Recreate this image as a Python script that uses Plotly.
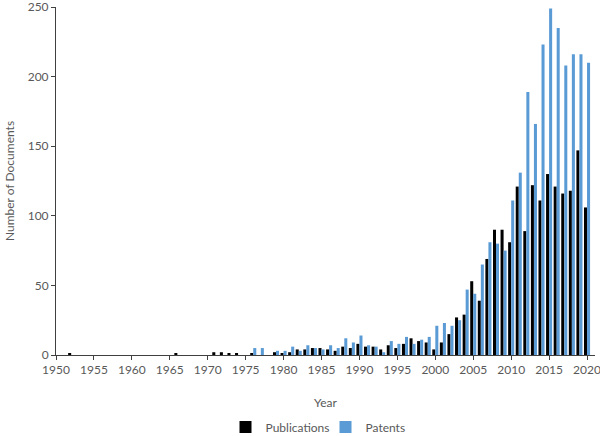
import plotly.graph_objects as go

years = list(range(1950, 2021))

publications = [
    0, 0, 1, 0, 0, 0, 0, 0, 0, 0,          # 1950-1959
    0, 0, 0, 0, 0, 0, 1, 0, 0, 0,          # 1960-1969
    0, 2, 2, 1, 1, 0, 1, 0, 0, 2,          # 1970-1979
    1, 2, 4, 4, 5, 5, 4, 3, 6, 5,          # 1980-1989
    8, 6, 6, 4, 7, 5, 8, 12, 10, 9,        # 1990-1999
    4, 9, 15, 27, 29, 53, 39, 69, 90, 90,  # 2000-2009
    81, 121, 89, 122, 111, 130, 121, 116, 118, 147,  # 2010-2019
    106,                                    # 2020
]

patents = [
    0, 0, 0, 0, 0, 0, 0, 0, 0, 0,          # 1950-1959
    0, 0, 0, 0, 0, 0, 0, 0, 0, 0,          # 1960-1969
    0, 0, 0, 0, 0, 0, 5, 5, 0, 3,          # 1970-1979
    3, 6, 3, 7, 5, 4, 7, 5, 12, 9,         # 1980-1989
    14, 7, 6, 2, 10, 8, 13, 8, 11, 13,     # 1990-1999
    21, 23, 21, 25, 47, 44, 65, 81, 80, 75,  # 2000-2009
    111, 131, 189, 166, 223, 249, 235, 208, 216, 216,  # 2010-2019
    210,                                    # 2020
]

x_ticks = list(range(1950, 2021, 5))
y_ticks = [0, 50, 100, 150, 200, 250]

grey = "#595959"
axis_col = "#404040"

fig = go.Figure()
fig.add_trace(go.Bar(x=years, y=publications, name="Publications",
                     marker=dict(color="#000000", line=dict(width=0))))
fig.add_trace(go.Bar(x=years, y=patents, name="Patents",
                     marker=dict(color="#5B9BD5", line=dict(width=0))))

fig.update_layout(
    width=600, height=436,
    margin=dict(l=56, r=5, t=7, b=81, autoexpand=False),
    paper_bgcolor="white", plot_bgcolor="white",
    barmode="group", bargap=0.2, bargroupgap=0,
    font=dict(family="Lato, Open Sans, sans-serif", size=11, color=grey),
    showlegend=True,
    legend=dict(orientation="h", x=0.5, xanchor="center", y=-0.165, yanchor="top",
                font=dict(size=12, color=grey), itemwidth=30,
                entrywidth=55, entrywidthmode="pixels",
                traceorder="normal", itemsizing="constant"),
    xaxis=dict(
        range=[1950, 2021.05], tickmode="array", tickvals=x_ticks,
        ticktext=[str(t) for t in x_ticks],
        showline=True, linecolor=axis_col, linewidth=1,
        ticks="outside", ticklen=4, tickcolor=axis_col,
        showgrid=False, zeroline=False, automargin=False,
        ticklabeloverflow="allow",
        tickfont=dict(size=12, color=grey),
        title=dict(text="Year", font=dict(size=12, color=grey), standoff=22),
    ),
    yaxis=dict(
        range=[0, 250], tickmode="array", tickvals=y_ticks,
        showline=True, linecolor=axis_col, linewidth=1,
        ticks="outside", ticklen=4, tickcolor=axis_col,
        showgrid=False, zeroline=False, automargin=False,
        ticklabeloverflow="allow",
        tickfont=dict(size=12, color=grey),
        title=dict(text="Number of Documents", font=dict(size=12, color=grey), standoff=10),
    ),
)

fig.write_html("out.html",
               config={"displayModeBar": False},
               post_script="document.body.style.margin='0';document.body.style.overflow='hidden';")
